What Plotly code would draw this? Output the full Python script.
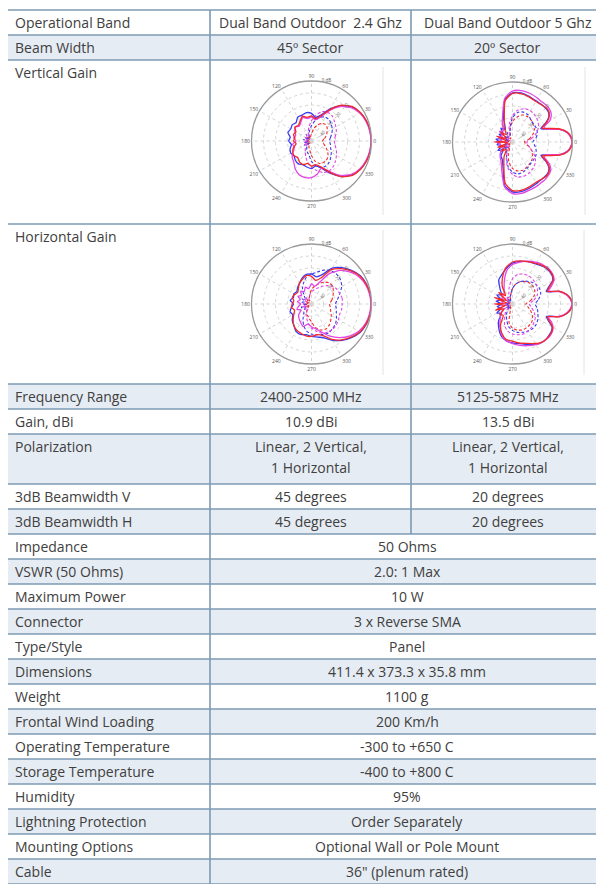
import plotly.graph_objects as go

# page body has an 8px margin: the figure is drawn 8px in and down
PAGE_OFF = 8
W, H = 604 - PAGE_OFF, 884 - PAGE_OFF

# ---------------- table content ----------------
ROW_LABELS = ["Operational Band", "Beam Width", "Vertical Gain", "Horizontal Gain",
              "Frequency Range", "Gain, dBi", "Polarization", "3dB Beamwidth V",
              "3dB Beamwidth H", "Impedance", "VSWR (50 Ohms)", "Maximum Power",
              "Connector", "Type/Style", "Dimensions", "Weight", "Frontal Wind Loading",
              "Operating Temperature", "Storage Temperature", "Humidity",
              "Lightning Protection", "Mounting Options", "Cable"]
COL_24 = ["Dual Band Outdoor  2.4 Ghz", "45º Sector", "", "", "2400-2500 MHz", "10.9 dBi",
          "Linear, 2 Vertical,<br>1 Horizontal", "45 degrees", "45 degrees"]
COL_5 = ["Dual Band Outdoor 5 Ghz", "20º Sector", "", "", "5125-5875 MHz", "13.5 dBi",
         "Linear, 2 Vertical,<br>1 Horizontal", "20 degrees", "20 degrees"]
SHARED = ["50 Ohms", "2.0: 1 Max", "10 W", "3 x Reverse SMA", "Panel",
          "411.4 x 373.3 x 35.8 mm", "1100 g", "200 Km/h", "-300 to +650 C",
          "-400 to +800 C", "95%", "Order Separately", "Optional Wall or Pole Mount",
          "36\" (plenum rated)"]

# ---------------- antenna pattern data (dB) ----------------
ANG_10 = [0, 10, 20, 30, 40, 50, 60, 70, 80, 90, 100, 110, 120, 130, 140, 150, 160, 170,
          180, 190, 200, 210, 220, 230, 240, 250, 260, 270, 280, 290, 300, 310, 320, 330, 340, 350]
ANG_5 = [0, 5, 10, 15, 20, 25, 30, 35, 40, 45, 50, 55, 60, 70, 80, 90, 100, 110, 120, 130,
         140, 150, 160, 170, 180, 190, 200, 210, 220, 230, 240, 250, 260, 270, 280, 290, 300,
         305, 310, 315, 320, 325, 330, 335, 340, 345, 350, 355]

# 2.4 GHz vertical
V24_RED = [0, -0.3, -1.2, -2.8, -5.5, -11, -20, -28, -31, -29, -30, -28, -31, -33, -32, -35, -34, -36,
           -35, -37, -34, -32, -31, -32, -30, -29, -31, -29, -30, -27, -20, -11, -5.5, -2.8, -1.2, -0.3]
V24_BLUE = [-0.2, -0.5, -1.4, -3, -6, -11.5, -19, -27, -30, -27, -26, -27, -27, -30, -29, -30, -29, -32,
            -31, -33, -31, -30, -31, -29, -28, -29, -28, -27, -29, -26, -19, -11.5, -6, -3, -1.4, -0.5]
V24_MAG = [-0.5, -0.8, -1.8, -3.5, -6.8, -12.5, -21, -29, -32, -30, -31, -29, -32, -34, -32, -34, -36, -35,
           -37, -34, -35, -32, -29, -27, -23, -20, -19, -19.5, -22, -26, -21, -12.5, -6.8, -3.5, -1.8, -0.8]
V24_MAG_D = [-31, -30, -28, -26.5, -25, -23, -22.5, -24, -28, -33, -38, -42, -45, -43, -46, -44, -47, -45,
             -46, -44, -46, -43, -45, -42, -40, -36, -32, -28, -25, -22, -21, -22, -24, -26, -28, -30]
V24_BLUE_D = [-35, -34, -32, -30, -28.5, -27, -27, -29, -33, -37, -41, -44, -46, -43, -47, -44, -46, -43,
              -47, -44, -46, -43, -47, -44, -42, -40, -38, -33, -29, -26.5, -26, -27, -29, -31, -33, -34]
V24_RED_D = [-41, -39, -37, -35, -33, -32, -33, -36, -40, -44, -46, -48, -45, -47, -45, -48, -46, -47,
             -45, -48, -46, -47, -45, -48, -46, -44, -42, -38, -33, -30, -29.5, -30, -32, -35, -38, -40]

# 2.4 GHz horizontal
H24_RED = [0, -0.4, -1.5, -3.5, -7, -11.5, -17, -27, -30, -27, -26, -28, -30, -33, -35, -34, -33, -35,
           -34, -33, -35, -33, -30, -27, -25, -24, -23, -23, -24, -22, -16, -11, -7, -3.5, -1.5, -0.4]
H24_BLUE = [-0.2, -0.5, -1.3, -3, -6.5, -10.5, -15.5, -24, -27, -25, -25, -27, -30, -32, -34, -33, -34, -32,
            -35, -33, -31, -32, -29, -27, -24, -23, -24, -23, -22, -20, -15, -10.5, -6.5, -3, -1.3, -0.5]
H24_MAG = [-0.6, -1, -2.2, -4.5, -8.5, -13.5, -21, -31, -35, -33, -37, -35, -38, -36, -39, -37, -40, -38,
           -41, -39, -37, -40, -36, -34, -32, -30, -33, -31, -29, -25, -19, -13.5, -8.5, -4.5, -2.2, -1]
H24_MAG_D = [-24.5, -24, -25, -25.5, -27, -30, -33, -36, -38, -40, -42, -44, -46, -43, -45, -42, -46, -44,
             -43, -45, -42, -46, -43, -45, -41, -38, -34, -30, -27, -24, -23, -22.5, -23, -24, -25, -24.5]
H24_BLUE_D = [-30, -28, -25, -21, -18.5, -17.5, -18, -20, -23, -25, -27, -31, -35, -40, -43, -41, -44, -42,
              -45, -43, -41, -44, -42, -40, -36, -31, -27, -25, -24, -23, -22, -23, -24, -26, -28, -29]
H24_RED_D = [-35, -33, -31, -29, -27, -27, -29, -32, -35, -38, -42, -45, -47, -44, -46, -48, -45, -47,
             -44, -46, -48, -45, -47, -44, -42, -40, -38, -35, -30, -27, -26, -27, -29, -31, -33, -34]

# 5 GHz vertical
V5_RED = [0, -1, -3.5, -8.5, -17, -23, -17, -12.5, -10.5, -10, -10.5, -11, -11,
          -10, -9, -9.5, -15, -30, -36, -42, -37, -44, -36, -45, -35, -46, -37, -43, -38, -42, -36, -29, -15, -9.5, -9, -10,
          -11, -11, -10.5, -10, -10.5, -12.5, -17, -23, -17, -8.5, -3.5, -1]
V5_BLUE = [-0.2, -1.2, -3.8, -9, -18, -24, -18, -13, -11, -10.5, -10.5, -10.5, -10.5,
           -9.5, -8.5, -9, -14, -28, -38, -35, -40, -37, -42, -36, -39, -37, -41, -36, -40, -35, -33, -27, -13, -8.5, -8, -9,
           -10, -10.5, -10.5, -10.5, -11, -13, -18, -24, -18, -9, -3.8, -1.2]
V5_MAG = [-0.5, -1.5, -4, -9.5, -19, -21, -14, -10.5, -9, -8.5, -8.5, -8.5, -8,
          -7, -6.5, -7.5, -13, -26, -33, -38, -36, -40, -38, -41, -37, -40, -38, -41, -37, -34, -31, -24, -12, -7, -6.5, -7.5,
          -8, -8.5, -8.5, -9, -9.5, -11, -15, -21, -19, -9.5, -4, -1.5]
V5_MAG_D = [-38, -34, -29, -25, -22.5, -21, -20, -20.5, -23, -28, -35, -42, -45, -43, -46, -44, -47, -45,
            -46, -44, -47, -45, -43, -46, -42, -35, -28, -23, -20.5, -20, -21, -22.5, -25, -29, -34, -37]
V5_BLUE_D = [-33, -30, -28, -27, -27, -26, -24, -23.5, -25, -30, -38, -44, -41, -45, -42, -46, -43, -47,
             -44, -46, -42, -45, -41, -44, -40, -36, -29, -25, -23, -23.5, -25, -26.5, -27, -27.5, -29, -31]
V5_RED_D = [-40, -36, -32, -29, -27.5, -26, -25.5, -26, -29, -33, -39, -45, -47, -44, -46, -48, -45, -47,
            -44, -46, -48, -45, -47, -44, -46, -40, -33, -28, -25.5, -25, -26, -27, -28.5, -31, -34, -38]

# 5 GHz horizontal
H5_RED = [0, -1.2, -4, -9, -19, -16, -11, -9, -8.5, -8.5, -9, -10, -11,
          -12.5, -13.5, -15, -19, -26, -33, -41, -35, -44, -34, -45, -35, -44, -35, -42, -36, -38, -30, -24, -20, -19, -17, -15,
          -12, -10.5, -9.5, -9.5, -9.5, -10, -11.5, -16, -19, -9, -4, -1.2]
H5_BLUE = [-0.3, -1.4, -4.3, -9.5, -20, -17, -11.5, -9.5, -9, -9, -9.5, -10.5, -11.5,
           -12.5, -14, -16, -20, -24, -27, -34, -38, -35, -40, -36, -41, -37, -40, -35, -38, -32, -27, -22, -19, -17.5, -16.5, -14,
           -11.5, -10, -9.5, -9.5, -10, -10.5, -12, -17, -20, -9.5, -4.3, -1.4]
H5_MAG = [-0.6, -1.8, -4.8, -10, -18, -14, -10, -8.5, -8, -8, -8.5, -9, -10,
          -12, -14.5, -17, -22, -30, -36, -39, -37, -41, -38, -42, -39, -42, -38, -41, -37, -34, -29, -23, -19, -17, -15, -13,
          -11, -10, -9.5, -9, -9, -9.5, -11, -14, -18, -10, -4.8, -1.8]
H5_MAG_D = [-36, -32, -28, -26, -24.5, -23.5, -23, -23.5, -25, -29, -35, -41, -44, -42, -46, -43, -47, -44,
            -46, -43, -46, -42, -45, -41, -37, -31, -27, -25, -24, -23.5, -24, -25, -26.5, -28, -31, -34]
H5_BLUE_D = [-31, -28, -25, -24, -24.5, -26, -28, -30, -33, -37, -42, -44, -47, -44, -47, -44, -47, -44,
             -47, -44, -47, -44, -47, -44, -40, -36, -31, -28, -26, -25, -24, -23.5, -24, -25.5, -27.5, -29]
H5_RED_D = [-39, -35, -31, -28.5, -27.5, -27.5, -28.5, -30, -33, -37, -42, -45, -47, -45, -48, -45, -47, -45,
            -48, -45, -47, -45, -48, -45, -47, -45, -34, -30, -28, -27, -27, -27.5, -28.5, -31, -34, -37]

ANGLE_TICKS = [0, 30, 60, 90, 120, 150, 180, 210, 240, 270, 300, 330]
RADIAL_TICKS = [-40, -30, -20, -10]

# ---------------- styles ----------------
FONT = "Open Sans"
TXT = "#404040"
BORDER = "#7d9ab3"
SHADE = "#e6ecf3"
RED, BLUE, MAG = "#f42a2a", "#3a3af2", "#e246e6"

ROW_H = [25, 25, 164, 160, 25, 25, 50, 25, 25] + [25] * 14
SHADED = [False, True, False, False, True, False, True, False, True,
          False, True, False, True, False, True, False, True, False, True, False, True, False, True]
TOP = 10
X0, X1, X2, X3 = 7, 210, 411, 612


def px(x):
    return (x - PAGE_OFF) / W


def py(y):
    return 1 - (y - PAGE_OFF) / H


fig = go.Figure()
shapes, annotations = [], []

tops = []
y = TOP
for h in ROW_H:
    tops.append(y)
    y += h

for i, (t, h) in enumerate(zip(tops, ROW_H)):
    if SHADED[i]:
        shapes.append(dict(type="rect", xref="paper", yref="paper", x0=px(X0), x1=px(X3),
                           y0=py(t + h), y1=py(t), fillcolor=SHADE, line_width=0, layer="below"))

for t in tops + [tops[-1] + ROW_H[-1]]:
    shapes.append(dict(type="line", xref="paper", yref="paper", x0=px(X0), x1=px(X3),
                       y0=py(t), y1=py(t), line=dict(color=BORDER, width=1.6)))
bottom = tops[-1] + ROW_H[-1]
for xx in (X0, X1):
    shapes.append(dict(type="line", xref="paper", yref="paper", x0=px(xx), x1=px(xx),
                       y0=py(TOP), y1=py(bottom), line=dict(color=BORDER, width=1.6)))
split_end = tops[9]
shapes.append(dict(type="line", xref="paper", yref="paper", x0=px(X2), x1=px(X2),
                   y0=py(TOP), y1=py(split_end), line=dict(color=BORDER, width=1.6)))


def add_text(txt, x, yc, anchor="center"):
    annotations.append(dict(text=txt, x=px(x), y=py(yc), xref="paper", yref="paper",
                            xanchor=anchor, yanchor="middle", showarrow=False,
                            font=dict(family=FONT, size=14, color=TXT)))


for i, lab in enumerate(ROW_LABELS):
    add_text(lab, 13, tops[i] + 12.5, "left")

for i in range(len(COL_24)):
    for col, xc in ((COL_24, (X1 + X2) / 2), (COL_5, (X2 + 604) / 2)):
        if col[i]:
            for k, line in enumerate(col[i].split("<br>")):
                add_text(line, xc, tops[i] + 12.5 + 21 * k)

for j, val in enumerate(SHARED):
    add_text(val, (X1 + 604) / 2, tops[9 + j] + 12.5)

# ---------------- polar plots ----------------
R = 60
plots = [
    ("polar", 311.5, 141, ANG_10, (V24_RED, V24_BLUE, V24_MAG), ANG_10, (V24_RED_D, V24_BLUE_D, V24_MAG_D)),
    ("polar2", 512.5, 142, ANG_5, (V5_RED, V5_BLUE, V5_MAG), ANG_10, (V5_RED_D, V5_BLUE_D, V5_MAG_D)),
    ("polar3", 311.5, 304, ANG_10, (H24_RED, H24_BLUE, H24_MAG), ANG_10, (H24_RED_D, H24_BLUE_D, H24_MAG_D)),
    ("polar4", 512.5, 304, ANG_5, (H5_RED, H5_BLUE, H5_MAG), ANG_10, (H5_RED_D, H5_BLUE_D, H5_MAG_D)),
]

layout_polars = {}
for name, cx, cy, ang_s, solids, ang_d, dashes in plots:
    layout_polars[name] = dict(
        domain=dict(x=[px(cx - R), px(cx + R)], y=[py(cy + R), py(cy - R)]),
        bgcolor="white",
        radialaxis=dict(range=[-50, 0], tickvals=RADIAL_TICKS, angle=50, tickangle=0,
                        showline=False, ticks="", gridcolor="#d4d4d4", griddash="dot",
                        tickfont=dict(family=FONT, size=4.5, color="#666")),
        angularaxis=dict(rotation=0, direction="counterclockwise", tickvals=ANGLE_TICKS,
                         ticks="", showline=True, linecolor="#9a9a9a", linewidth=1.3,
                         gridcolor="#d4d4d4", griddash="dot",
                         tickfont=dict(family=FONT, size=5, color="#555")),
    )
    for vals, color in zip(dashes, (RED, BLUE, MAG)):
        fig.add_trace(go.Scatterpolar(r=list(vals) + [vals[0]], theta=list(ang_d) + [ang_d[0]],
                                      mode="lines", subplot=name, hoverinfo="skip",
                                      line=dict(color=color, width=1.1, dash="3px,2px", shape="spline",
                                                smoothing=0.8)))
    for vals, color in zip((solids[1], solids[2], solids[0]), (BLUE, MAG, RED)):
        fig.add_trace(go.Scatterpolar(r=list(vals) + [vals[0]], theta=list(ang_s) + [ang_s[0]],
                                      mode="lines", subplot=name, hoverinfo="skip",
                                      line=dict(color=color, width=1.3, shape="spline", smoothing=0.6)))
    fig.add_trace(go.Scatterpolar(r=[-1], theta=[80], mode="text", text=["0 dB"], subplot=name,
                                  textposition="top right", cliponaxis=False, hoverinfo="skip",
                                  textfont=dict(family=FONT, size=4.5, color="#555")))

# light image-edge lines at right of the pattern pictures
for x_edge, y_a, y_b in ((383, 67, 215), (585, 67, 215), (383, 230, 375), (584, 230, 375)):
    shapes.append(dict(type="line", xref="paper", yref="paper", x0=px(x_edge), x1=px(x_edge),
                       y0=py(y_a), y1=py(y_b), line=dict(color="#e4e4e4", width=1)))

fig.update_layout(width=W, height=H, margin=dict(l=0, r=0, t=0, b=0),
                  paper_bgcolor="white", plot_bgcolor="white", showlegend=False,
                  shapes=shapes, annotations=annotations, **layout_polars)

fig.write_html("out.html")
